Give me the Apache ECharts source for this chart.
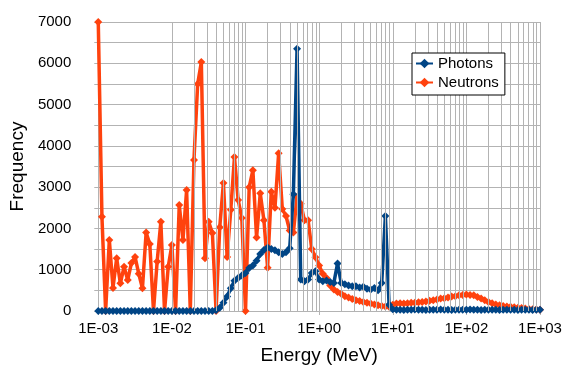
<!DOCTYPE html>
<html><head><meta charset="utf-8">
<script src="https://cdn.jsdelivr.net/npm/echarts@6/dist/echarts.min.js"></script>
<style>html,body{margin:0;padding:0;background:#fff}#c{width:582px;height:379px}</style>
</head><body><div id="c"></div>
<script>
// Energy bins (MeV)
var energy = [
0.001,0.001122,0.001259,0.001413,0.001585,0.001778,0.001995,0.002239,0.002512,0.002818,0.003162,0.003548,0.003981,0.004467,0.005012,0.005623,0.00631,0.007079,0.007943,0.008913,
0.01,0.01122,0.01259,0.01413,0.01585,0.01778,0.01995,0.02239,0.02512,0.02818,0.03162,0.03548,0.03981,0.04467,0.05012,0.05623,0.0631,0.07079,0.07943,0.08913,
0.1,0.1122,0.1259,0.1413,0.1585,0.1778,0.1995,0.2239,0.2512,0.2818,0.3162,0.3548,0.3981,0.4467,0.5012,0.5623,0.631,0.7079,0.7943,0.8913,
1,1.122,1.259,1.413,1.585,1.778,1.995,2.239,2.512,2.818,3.162,3.548,3.981,4.467,5.012,5.623,6.31,7.079,7.943,8.913,
10,11.22,12.59,14.13,15.85,17.78,19.95,22.39,25.12,28.18,31.62,35.48,39.81,44.67,50.12,56.23,63.1,70.79,79.43,89.13,
100,112.2,125.9,141.3,158.5,177.8,199.5,223.9,251.2,281.8,316.2,354.8,398.1,446.7,501.2,562.3,631,707.9,794.3,891.3,
1000];

var photons = [
0,0,0,0,0,0,0,0,0,0,0,0,0,0,0,0,0,0,0,0,
0,0,0,0,0,0,0,0,0,0,0,0,20,80,200,350,550,730,800,860,
920,1040,1100,1220,1380,1480,1540,1500,1470,1420,1380,1420,1520,2830,6350,760,720,760,920,960,
760,720,740,700,680,1150,680,650,620,600,600,570,590,540,520,560,500,680,2300,150,
40,30,30,25,30,30,35,30,30,25,30,30,30,35,30,30,25,30,30,30,
30,35,30,30,25,30,30,30,30,25,30,30,30,30,25,30,30,30,25,30,
30];

var neutrons = [
7000,2280,0,1720,560,1280,670,1070,750,1160,1310,900,550,1900,1620,0,1200,2160,0,1070,
1600,0,2570,1720,2930,0,3660,5500,6030,1280,2160,1890,0,2030,3100,1310,2450,3730,2690,2250,
0,3000,3410,1780,2850,2200,1050,2890,2500,3820,2470,2300,1950,1900,2770,2600,2200,2200,1500,1300,
1100,900,800,620,520,460,420,360,330,290,260,240,220,200,180,160,140,120,110,100,
150,180,190,180,190,200,200,210,220,230,250,260,280,300,310,330,350,360,380,390,
400,390,380,340,300,260,220,190,160,140,120,110,100,90,80,70,60,50,40,35,
30];

var xTickLabels = {'-3':'1E-03','-2':'1E-02','-1':'1E-01','0':'1E+00','1':'1E+01','2':'1E+02','3':'1E+03'};
var decades = [0.001,0.01,0.1,1,10,100];
var minorFactors = [2,3,4,5,6,7,8,9];

var minorX = [];
decades.forEach(function(d){ minorFactors.forEach(function(f){ minorX.push({xAxis: d*f}); }); });

function pairs(xs, ys){ return xs.map(function(x,i){ return [x, ys[i]]; }); }

var FONT = 'Liberation Sans';
var GRID = '#b3b3b3';
var chart = echarts.init(document.getElementById('c'), null, {renderer:'canvas'});
chart.setOption({
  animation: false,
  textStyle: {fontFamily: FONT},
  grid: {left: 97, right: 42, top: 22, bottom: 68, containLabel: false},
  legend: {
    data: ['Photons','Neutrons'],
    orient: 'vertical', left: 412, top: 53, z: 20, zlevel: 0,
    backgroundColor: '#ffffff', borderColor: '#000', borderWidth: 1,
    padding: [2, 6, 4, 3],
    itemWidth: 17, itemHeight: 12, itemGap: 2,
    textStyle: {fontFamily: FONT, fontSize: 15, color: '#000', lineHeight: 17}
  },
  xAxis: {
    type: 'log', logBase: 10, min: 0.001, max: 1000, splitNumber: 6,
    name: 'Energy (MeV)', nameLocation: 'middle', nameGap: 35,
    nameTextStyle: {fontFamily: FONT, fontSize: 19, color: '#000'},
    axisLine: {show: false},
    axisTick: {show: true, length: 4, lineStyle: {color: GRID}},
    axisLabel: {fontFamily: FONT, fontSize: 15, color: '#000', margin: 10,
      formatter: function(v){ var e = Math.round(Math.log10(v)); return xTickLabels[String(e)] || ''; }},
    splitLine: {show: true, lineStyle: {color: GRID, width: 1}}
  },
  yAxis: {
    type: 'value', min: 0, max: 7000, interval: 1000,
    name: 'Frequency', nameLocation: 'middle', nameGap: 70, nameRotate: 90,
    nameTextStyle: {fontFamily: FONT, fontSize: 19, color: '#000'},
    axisLine: {show: false},
    axisTick: {show: true, length: 4, lineStyle: {color: GRID}},
    minorTick: {show: true, splitNumber: 2, length: 4, lineStyle: {color: GRID}},
    axisLabel: {fontFamily: FONT, fontSize: 15, color: '#000', margin: 27,
      formatter: function(v){ return String(v); }},
    splitLine: {show: true, lineStyle: {color: GRID, width: 1}},
    minorSplitLine: {show: true, lineStyle: {color: GRID, width: 1}}
  },
  series: [
    {
      name: 'minorgrid', type: 'line', data: [], z: 1, silent: true,
      markLine: {silent: true, symbol: ['none','none'], label: {show: false},
        lineStyle: {color: GRID, width: 1, type: 'solid'}, emphasis: {disabled: true},
        animation: false, data: minorX}
    },
    {
      name: 'Photons', type: 'line', z: 4,
      data: pairs(energy, photons),
      symbol: 'diamond', symbolSize: 8, showAllSymbol: true,
      itemStyle: {color: '#004586'},
      lineStyle: {color: '#004586', width: 3.5}
    },
    {
      name: 'Neutrons', type: 'line', z: 3,
      data: pairs(energy, neutrons),
      symbol: 'diamond', symbolSize: 8, showAllSymbol: true,
      itemStyle: {color: '#ff420e'},
      lineStyle: {color: '#ff420e', width: 3.5}
    }
  ]
});
</script>
</body></html>
